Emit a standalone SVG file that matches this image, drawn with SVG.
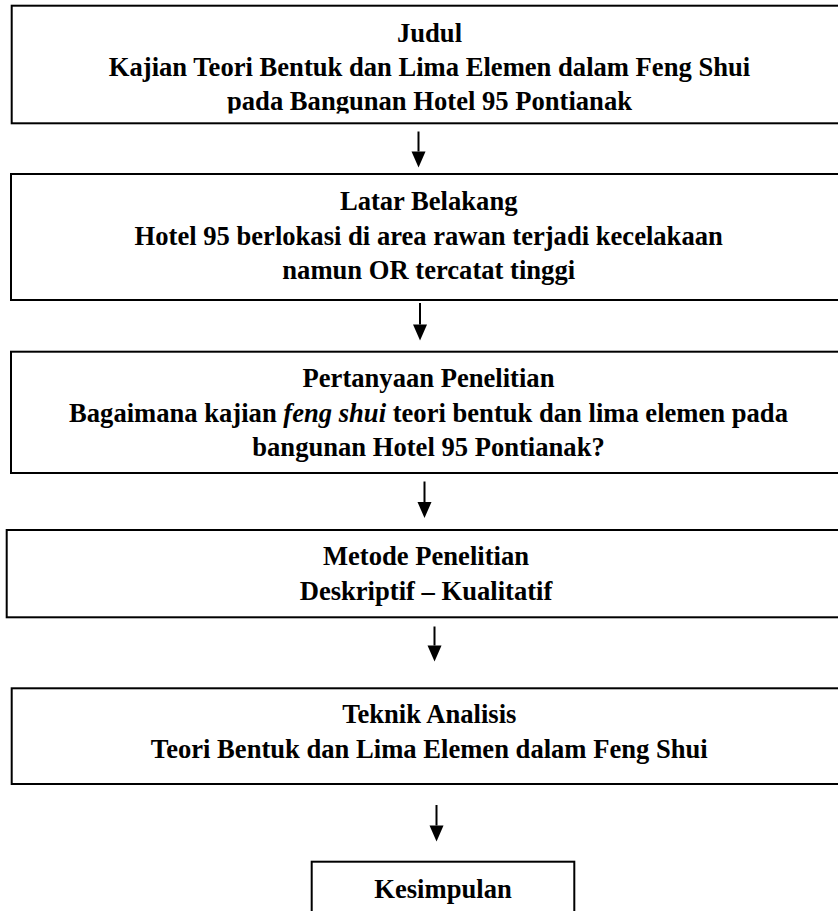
<svg xmlns="http://www.w3.org/2000/svg" width="838" height="911" viewBox="0 0 838 911">
<style>
.box{fill:#fff;stroke:#000;stroke-width:2}
.t{font-family:"Liberation Serif","Times New Roman",serif;font-weight:bold;font-size:26.6px;fill:#000;text-anchor:middle}
.i{font-style:italic}
.c{stroke:#000;stroke-width:2;fill:none}
</style>
<defs>
<marker id="ah" markerUnits="userSpaceOnUse" markerWidth="16" markerHeight="18" refX="8" refY="16" orient="auto" viewBox="0 0 16 18">
<path d="M1,0 L15,0 L8,16 Z" fill="#000" transform="rotate(-90 8 8)"/>
</marker>
<clipPath id="clip1"><rect x="0" y="0" width="838" height="113.5"/></clipPath>
</defs>
<rect width="838" height="911" fill="#fff"/>
<g id="judul">
<rect class="box" x="11.7" y="5.7" width="838" height="117.6"/>
<g clip-path="url(#clip1)">
<text class="t" x="429.5" y="41.7">Judul</text>
<text class="t" x="429.5" y="76">Kajian Teori Bentuk dan Lima Elemen dalam Feng Shui</text>
<text class="t" x="429.5" y="110.2">pada Bangunan Hotel 95 Pontianak</text>
</g>
</g>
<g id="latar-belakang">
<rect class="box" x="11" y="174" width="838" height="126"/>
<text class="t" x="428.7" y="210">Latar Belakang</text>
<text class="t" x="428.7" y="245">Hotel 95 berlokasi di area rawan terjadi kecelakaan</text>
<text class="t" x="428.7" y="279">namun OR tercatat tinggi</text>
</g>
<g id="pertanyaan">
<rect class="box" x="11" y="351.7" width="838" height="121.3"/>
<text class="t" x="428.5" y="386.7">Pertanyaan Penelitian</text>
<text class="t" x="428.5" y="421.7">Bagaimana kajian <tspan class="i">feng shui</tspan> teori bentuk dan lima elemen pada</text>
<text class="t" x="428.5" y="456">bangunan Hotel 95 Pontianak?</text>
</g>
<g id="metode">
<rect class="box" x="6.7" y="530" width="838" height="87.3"/>
<text class="t" x="426" y="565">Metode Penelitian</text>
<text class="t" x="426" y="600">Deskriptif – Kualitatif</text>
</g>
<g id="teknik">
<rect class="box" x="11.7" y="688.3" width="838" height="95.7"/>
<text class="t" x="429.3" y="723.3">Teknik Analisis</text>
<text class="t" x="429.3" y="758.3">Teori Bentuk dan Lima Elemen dalam Feng Shui</text>
</g>
<g id="kesimpulan">
<rect class="box" x="311.7" y="861.7" width="262.6" height="70"/>
<text class="t" x="443" y="898.3">Kesimpulan</text>
</g>
<g id="connectors">
<path d="M418.5,131.5 V151.5" class="c"/><path d="M411.5,151.5 H425.5 L418.5,167.5 Z" fill="#000"/>
<path d="M420,303 V324.5" class="c"/><path d="M413,324.5 H427 L420,340.5 Z" fill="#000"/>
<path d="M424.5,481.5 V502" class="c"/><path d="M417.5,502 H431.5 L424.5,518 Z" fill="#000"/>
<path d="M434.5,626.5 V645.5" class="c"/><path d="M427.5,645.5 H441.5 L434.5,661.5 Z" fill="#000"/>
<path d="M436.5,805 V825.5" class="c"/><path d="M429.5,825.5 H443.5 L436.5,841.5 Z" fill="#000"/>
</g>
</svg>
